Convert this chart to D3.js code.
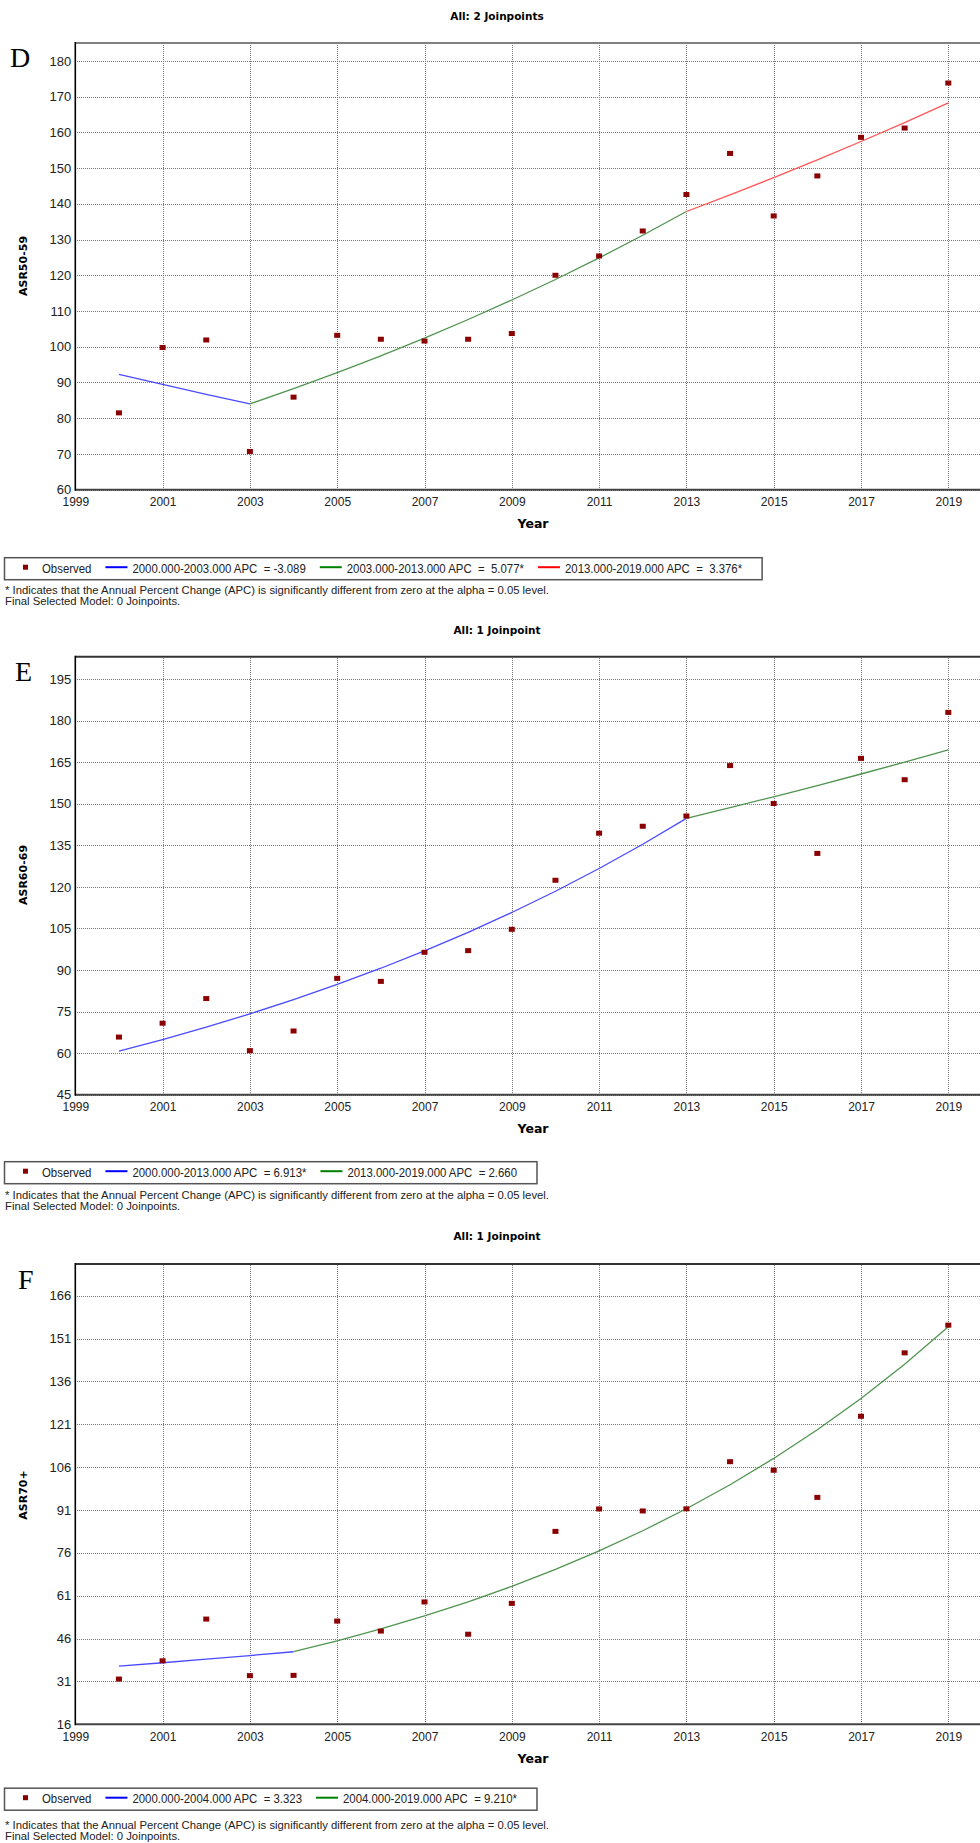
<!DOCTYPE html>
<html>
<head>
<meta charset="utf-8">
<script src="https://cdn.jsdelivr.net/npm/d3@7/dist/d3.min.js"></script>
<style>
body { margin: 0; background: #fff; }
text { font-family: "Liberation Sans", Arial, sans-serif; }
</style>
</head>
<body>
<script>
// years and x tick labels
var years = [2000, 2001, 2002, 2003, 2004, 2005, 2006, 2007, 2008, 2009,
             2010, 2011, 2012, 2013, 2014, 2015, 2016, 2017, 2018, 2019];
var xTicks = [1999, 2001, 2003, 2005, 2007, 2009, 2011, 2013, 2015, 2017, 2019];

// Panel D: ASR50-59
var observedD = [81.5, 99.8, 101.9, 70.7, 85.9, 103.2, 102.1, 101.6, 102.1, 103.7,
                 120.0, 125.4, 132.4, 142.6, 154.1, 136.6, 147.8, 158.6, 161.2, 173.8];
var fittedD = [92.3, 89.45, 86.69, 84.01, 88.28, 92.76, 97.47, 102.42, 107.62, 113.08,
               118.82, 124.85, 131.19, 137.85, 142.50, 147.31, 152.29, 157.43, 162.74, 168.24];
var joinsD = [2000, 2003, 2013, 2019];
var yTicksD = [60, 70, 80, 90, 100, 110, 120, 130, 140, 150, 160, 170, 180];
var legendD = ["2000.000-2003.000 APC  = -3.089", "2003.000-2013.000 APC  =  5.077*", "2013.000-2019.000 APC  =  3.376*"];

// Panel E: ASR60-69
var observedE = [65.8, 70.8, 79.7, 60.9, 68.0, 87.0, 85.9, 96.4, 97.0, 104.7,
                 122.4, 139.4, 141.9, 145.6, 163.8, 150.1, 132.1, 166.4, 158.7, 183.0];
var fittedE = [60.70, 64.90, 69.38, 74.18, 79.31, 84.79, 90.65, 96.92, 103.62, 110.78,
               118.44, 126.63, 135.38, 144.74, 148.59, 152.54, 156.60, 160.76, 165.04, 169.43];
var joinsE = [2000, 2013, 2019];
var yTicksE = [45, 60, 75, 90, 105, 120, 135, 150, 165, 180, 195];
var legendE = ["2000.000-2013.000 APC  = 6.913*", "2013.000-2019.000 APC  = 2.660"];

// Panel F: ASR70+
var observedF = [31.8, 38.2, 52.8, 33.0, 33.1, 52.1, 48.6, 58.8, 47.5, 58.3,
                 83.5, 91.35, 90.65, 91.4, 107.9, 104.9, 95.4, 123.8, 146.0, 155.7];
var fittedF = [36.30, 37.51, 38.75, 40.04, 41.37, 45.18, 49.34, 53.89, 58.85, 64.27,
               70.19, 76.65, 83.71, 91.42, 99.84, 109.04, 119.08, 130.05, 142.02, 155.10];
var joinsF = [2000, 2004, 2019];
var yTicksF = [16, 31, 46, 61, 76, 91, 106, 121, 136, 151, 166];
var legendF = ["2000.000-2004.000 APC  = 3.323", "2004.000-2019.000 APC  = 9.210*"];

var footnotes = ["* Indicates that the Annual Percent Change (APC) is significantly different from zero at the alpha = 0.05 level.",
                 "Final Selected Model: 0 Joinpoints."];

var segColors = ["#0000ff", "#008000", "#ff0000"];
var lineColors = ["#4a4aff", "#4f944f", "#ff5555"];

var panels = [
  { letter: "D", lx: 10, ly: 67, title: "All: 2 Joinpoints", titleY: 20, yLabel: "ASR50-59", labelY: 266,
    obs: observedD, fit: fittedD, joins: joinsD, ticks: yTicksD, legend: legendD,
    top: 43, bottom: 489.7, yMin: 60, yMax: 185, legendDy: 68, topColor: "#808080" },
  { letter: "E", lx: 15, ly: 681, title: "All: 1 Joinpoint", titleY: 634, yLabel: "ASR60-69", labelY: 875,
    obs: observedE, fit: fittedE, joins: joinsE, ticks: yTicksE, legend: legendE,
    top: 656.7, bottom: 1094.7, yMin: 45, yMax: 203.1, legendDy: 67, topColor: "#333" },
  { letter: "F", lx: 18, ly: 1289, title: "All: 1 Joinpoint", titleY: 1240, yLabel: "ASR70+", labelY: 1495,
    obs: observedF, fit: fittedF, joins: joinsF, ticks: yTicksF, legend: legendF,
    top: 1264, bottom: 1724.2, yMin: 16, yMax: 177.1, legendDy: 64, topColor: "#333" }
];

var W = 980, H = 1843;
var left = 75.3, right = 981;

var svg = d3.select("body").append("svg")
  .attr("width", W)
  .attr("height", H);

var x = d3.scaleLinear()
  .domain([1999, 2019])
  .range([left, 948.3]);

panels.forEach(function(p) {
  var y = d3.scaleLinear()
    .domain([p.yMin, p.yMax])
    .range([p.bottom, p.top]);

  var g = svg.append("g");

  // horizontal grid
  var hGrid = g.append("g")
    .attr("transform", "translate(" + left + ",0)")
    .call(d3.axisLeft(y).tickValues(p.ticks).tickSize(-(right - left)).tickFormat(""));
  hGrid.select(".domain").remove();
  hGrid.selectAll("line").attr("stroke", "#7a7a7a").attr("stroke-dasharray", "1,1")
    .attr("shape-rendering", "crispEdges");

  // vertical grid
  var vGrid = g.append("g")
    .attr("transform", "translate(0," + p.bottom + ")")
    .call(d3.axisBottom(x).tickValues(xTicks.slice(1)).tickSize(-(p.bottom - p.top)).tickFormat(""));
  vGrid.select(".domain").remove();
  vGrid.selectAll("line").attr("stroke", "#7a7a7a").attr("stroke-dasharray", "1,1")
    .attr("shape-rendering", "crispEdges");

  // frame
  g.append("line")
    .attr("x1", left).attr("x2", right).attr("y1", p.top).attr("y2", p.top)
    .attr("stroke", p.topColor).attr("stroke-width", 2);
  g.append("line")
    .attr("x1", left).attr("x2", right).attr("y1", p.bottom).attr("y2", p.bottom)
    .attr("stroke", "#444").attr("stroke-width", 2);
  g.append("line")
    .attr("x1", left).attr("x2", left).attr("y1", p.top - 1).attr("y2", p.bottom + 1)
    .attr("stroke", "#000").attr("stroke-width", 1.6);

  // tick labels
  var yAx = g.append("g")
    .attr("transform", "translate(" + left + ",0)")
    .call(d3.axisLeft(y).tickValues(p.ticks).tickSize(0).tickPadding(4));
  yAx.select(".domain").remove();
  yAx.selectAll("text").attr("font-size", "13px").attr("fill", "#222")
    .attr("font-family", "'Liberation Sans', Arial, sans-serif");

  var xAx = g.append("g")
    .attr("transform", "translate(0," + p.bottom + ")")
    .call(d3.axisBottom(x).tickValues(xTicks).tickSize(0).tickPadding(8).tickFormat(d3.format("d")));
  xAx.select(".domain").remove();
  xAx.selectAll("text").attr("font-size", "12px").attr("fill", "#222")
    .attr("font-family", "'Liberation Sans', Arial, sans-serif");

  // fitted segments
  var line = d3.line()
    .x(function(d) { return x(d.year); })
    .y(function(d) { return y(d.value); });
  for (var i = 0; i < p.joins.length - 1; i++) {
    var a = p.joins[i], b = p.joins[i + 1];
    var pts = [];
    years.forEach(function(yr, k) {
      if (yr >= a && yr <= b) pts.push({ year: yr, value: p.fit[k] });
    });
    g.append("path")
      .datum(pts)
      .attr("fill", "none")
      .attr("stroke", lineColors[i])
      .attr("stroke-width", 1.3)
      .attr("d", line);
  }

  // observed points
  g.selectAll("rect.obs")
    .data(p.obs)
    .enter()
    .append("rect")
    .attr("class", "obs")
    .attr("x", function(d, k) { return x(years[k]) - 3; })
    .attr("y", function(d) { return y(d) - 2.5; })
    .attr("width", 6)
    .attr("height", 5)
    .attr("fill", "#8b0000");

  // titles and labels
  g.append("text")
    .attr("x", 497).attr("y", p.titleY)
    .attr("text-anchor", "middle")
    .style("font-family", "'DejaVu Sans', Verdana, sans-serif")
    .style("font-weight", "bold")
    .style("font-size", "10.5px")
    .text(p.title);

  g.append("text")
    .attr("x", p.lx).attr("y", p.ly)
    .style("font-family", "'Liberation Serif', 'Times New Roman', serif")
    .style("font-size", "28px")
    .text(p.letter);

  g.append("text")
    .attr("transform", "translate(27," + p.labelY + ") rotate(-90)")
    .attr("text-anchor", "middle")
    .style("font-family", "'DejaVu Sans', Verdana, sans-serif")
    .style("font-weight", "bold")
    .style("font-size", "11px")
    .text(p.yLabel);

  g.append("text")
    .attr("x", 533).attr("y", p.bottom + 38.5)
    .attr("text-anchor", "middle")
    .style("font-family", "'DejaVu Sans', Verdana, sans-serif")
    .style("font-weight", "bold")
    .style("font-size", "12.5px")
    .text("Year");

  // legend
  var ly = p.bottom + p.legendDy;
  var lg = g.append("g").attr("transform", "translate(0," + ly + ")");
  var box = lg.append("rect")
    .attr("x", 4.5).attr("y", 0).attr("height", 22)
    .attr("fill", "#fff").attr("stroke", "#555").attr("stroke-width", 1.5);
  var cy = 11;
  lg.append("rect").attr("x", 23).attr("y", cy - 4).attr("width", 5).attr("height", 5).attr("fill", "#8b0000");
  var sx = 0.95;
  function addText(str, tx) {
    var t = lg.append("text")
      .attr("x", tx).attr("y", cy + 4.3)
      .attr("font-size", "12px")
      .attr("fill", "#222")
      .attr("xml:space", "preserve")
      .style("white-space", "pre")
      .text(str);
    var w = t.node().getComputedTextLength() * sx;
    t.attr("textLength", w).attr("lengthAdjust", "spacingAndGlyphs");
    return tx + w;
  }
  var cx = addText("Observed", 42);
  p.legend.forEach(function(str, i) {
    cx += 14;
    lg.append("line")
      .attr("x1", cx).attr("x2", cx + 22).attr("y1", cy - 1.5).attr("y2", cy - 1.5)
      .attr("stroke", segColors[i]).attr("stroke-width", 2);
    cx = addText(str, cx + 27);
  });
  box.attr("width", cx + 20 - 4.5);

  // footnotes
  var fn1 = g.append("text")
    .attr("x", 5).attr("y", p.bottom + 104.5)
    .attr("font-size", "11px").attr("fill", "#222")
    .text(footnotes[0]);
  var nat = fn1.node().getComputedTextLength();
  var k2 = 544 / nat;
  fn1.attr("textLength", 544).attr("lengthAdjust", "spacingAndGlyphs");
  var fn2 = g.append("text")
    .attr("x", 5).attr("y", p.bottom + 115.5)
    .attr("font-size", "11px").attr("fill", "#222")
    .text(footnotes[1]);
  fn2.attr("textLength", fn2.node().getComputedTextLength() * k2).attr("lengthAdjust", "spacingAndGlyphs");
});
</script>
</body>
</html>
